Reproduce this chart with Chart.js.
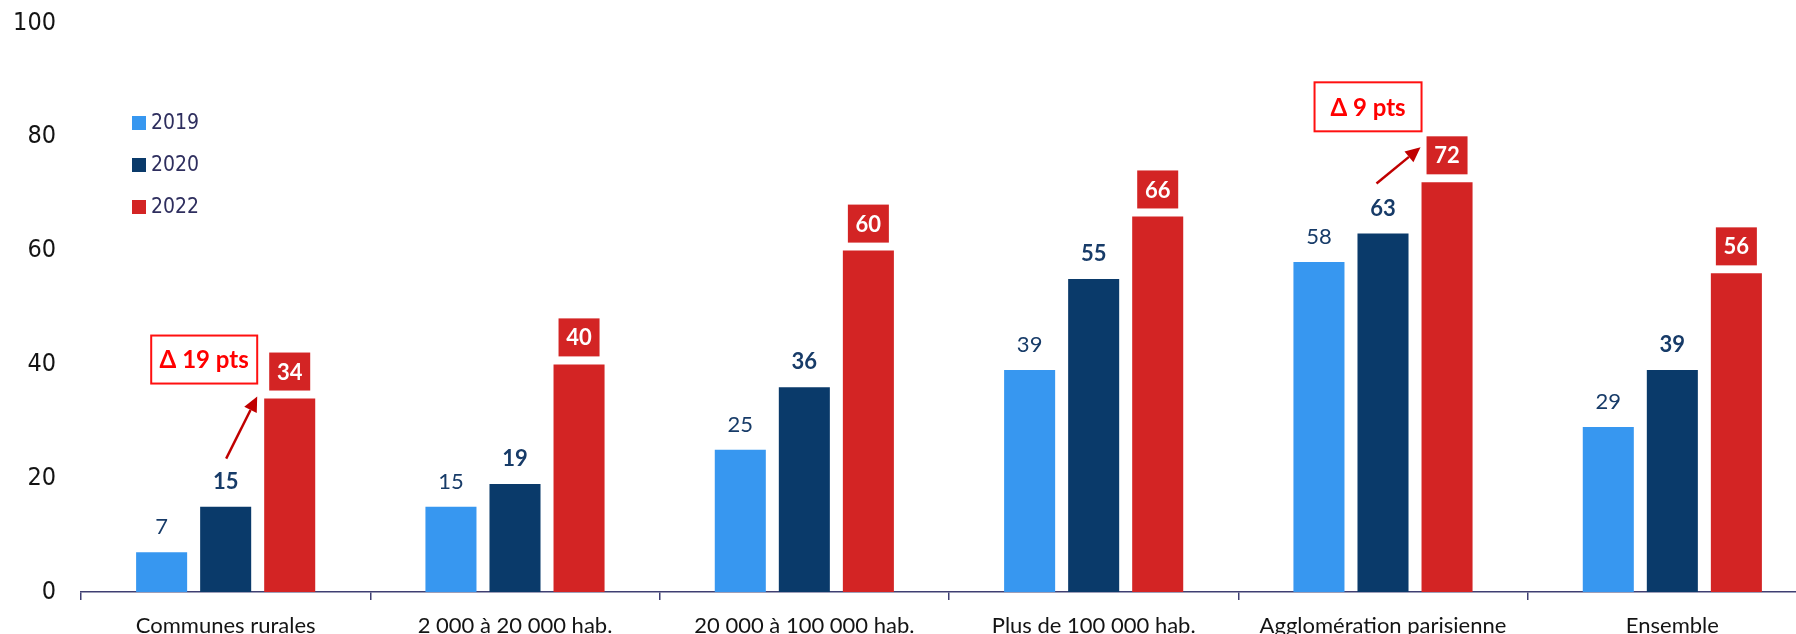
<!DOCTYPE html>
<html lang="fr">
<head>
<meta charset="utf-8">
<title>Évolution par taille d'agglomération</title>
<script src="https://cdn.jsdelivr.net/npm/chart.js@4.4.1/dist/chart.umd.min.js"></script>
<style>
  html, body { margin: 0; padding: 0; background: #ffffff; overflow: hidden; width: 1796px; height: 634px; }
  #wrap { position: absolute; left: 0; top: 0; width: 1817px; height: 650px; }
</style>
</head>
<body>
<div id="wrap"><canvas id="chart" width="1817" height="650"></canvas></div>
<script>
// ---- Data ----
const categories = [
  'Communes rurales',
  '2 000 à 20 000 hab.',
  '20 000 à 100 000 hab.',
  'Plus de 100 000 hab.',
  'Agglomération parisienne',
  'Ensemble'
];
const seriesLabels = ['2019', '2020', '2022'];
const values2019 = [7, 15, 25, 39, 58, 29];
const values2020 = [15, 19, 36, 55, 63, 39];
const values2022 = [34, 40, 60, 66, 72, 56];
const yTicks = [0, 20, 40, 60, 80, 100];
// categories that get a "Δ 2020 → 2022" callout
const calloutCategories = [0, 4];

// ---- Styles ----
const colors = ['#3797f0', '#0a3a6a', '#d32424'];
const axisColor = '#3f3f72';
const labelNavy = '#173b68';
const condensedFont = '"DejaVu Sans Condensed", "DejaVu Sans"';

// callout geometry, relative to the bars of its category
const calloutLayout = {
  0: { box: { dx: -85.5, dy: -39, w: 106, h: 48 }, from: { dx: 0.5, dy: -48 }, to: { dx: -32.5, dy: -2 } },
  4: { box: { dx: -79, dy: -75.5, w: 107, h: 49 }, from: { dx: -6.5, dy: -50 }, to: { dx: -26.5, dy: -35 } }
};

// value labels above bars; the last series sits in a filled box
const valueLabels = {
  id: 'valueLabels',
  afterDatasetsDraw(chart) {
    const ctx = chart.ctx;
    chart.data.datasets.forEach((ds, di) => {
      chart.getDatasetMeta(di).data.forEach((bar, i) => {
        const txt = String(ds.data[i]);
        ctx.save();
        ctx.textAlign = 'center';
        ctx.textBaseline = 'middle';
        if (di === 2) {
          const w = 41, h = 38, bottom = bar.y - 8;
          ctx.fillStyle = ds.backgroundColor;
          ctx.fillRect(bar.x - w / 2, bottom - h, w, h);
          ctx.fillStyle = '#ffffff';
          ctx.font = 'bold 22px Lato';
          ctx.fillText(txt, bar.x, bottom - h / 2 + 1);
        } else {
          ctx.fillStyle = labelNavy;
          ctx.font = (di === 1 ? 'bold ' : '') + '22px Lato';
          ctx.fillText(txt, bar.x, bar.y - 25);
        }
        ctx.restore();
      });
    });
  }
};

// legend drawn inside the plot area, top-left
const insideLegend = {
  id: 'insideLegend',
  afterDraw(chart) {
    const ctx = chart.ctx;
    const x0 = 132, y0 = 123, rowGap = 42, sq = 14;
    chart.data.datasets.forEach((ds, di) => {
      const cy = y0 + di * rowGap;
      ctx.save();
      ctx.fillStyle = ds.backgroundColor;
      ctx.fillRect(x0, cy - sq / 2, sq, sq);
      ctx.fillStyle = '#2e2e5e';
      ctx.font = '21px ' + condensedFont;
      ctx.textAlign = 'left';
      ctx.textBaseline = 'middle';
      ctx.fillText(ds.label, x0 + 19, cy + 1);
      ctx.restore();
    });
  }
};

// Δ callouts with arrow from the 2020 bar to the 2022 bar
const deltaCallouts = {
  id: 'deltaCallouts',
  afterDraw(chart) {
    const ctx = chart.ctx;
    const m20 = chart.getDatasetMeta(1).data;
    const m22 = chart.getDatasetMeta(2).data;
    calloutCategories.forEach(ci => {
      const lay = calloutLayout[ci];
      const b20 = m20[ci], b22 = m22[ci];
      const delta = values2022[ci] - values2020[ci];
      const text = 'Δ ' + delta + ' pts';

      // box
      const cx = b22.x + lay.box.dx, cy = b22.y + lay.box.dy;
      ctx.save();
      ctx.fillStyle = '#ffffff';
      ctx.fillRect(cx - lay.box.w / 2, cy - lay.box.h / 2, lay.box.w, lay.box.h);
      ctx.strokeStyle = '#ff1010';
      ctx.lineWidth = 2;
      ctx.strokeRect(cx - lay.box.w / 2, cy - lay.box.h / 2, lay.box.w, lay.box.h);
      ctx.fillStyle = '#ff0000';
      ctx.font = 'bold 24px Lato';
      ctx.textAlign = 'center';
      ctx.textBaseline = 'middle';
      ctx.fillText(text, cx, cy + 1);

      // arrow
      const sx = b20.x + lay.from.dx, sy = b20.y + lay.from.dy;
      const ex = b22.x + lay.to.dx, ey = b22.y + lay.to.dy;
      const ang = Math.atan2(ey - sy, ex - sx);
      const headLen = 15, headHalf = 7;
      const bx = ex - headLen * Math.cos(ang), by = ey - headLen * Math.sin(ang);
      ctx.strokeStyle = '#c00000';
      ctx.fillStyle = '#c00000';
      ctx.lineWidth = 2.5;
      ctx.beginPath();
      ctx.moveTo(sx, sy);
      ctx.lineTo(bx, by);
      ctx.stroke();
      ctx.beginPath();
      ctx.moveTo(ex, ey);
      ctx.lineTo(bx + headHalf * Math.sin(ang), by - headHalf * Math.cos(ang));
      ctx.lineTo(bx - headHalf * Math.sin(ang), by + headHalf * Math.cos(ang));
      ctx.closePath();
      ctx.fill();
      ctx.restore();
    });
  }
};

const seriesValues = [values2019, values2020, values2022];

new Chart(document.getElementById('chart'), {
  type: 'bar',
  data: {
    labels: categories,
    datasets: seriesLabels.map((label, i) => ({
      label,
      data: seriesValues[i],
      backgroundColor: colors[i],
      borderWidth: 0,
      categoryPercentage: 0.664,
      barPercentage: 0.797
    }))
  },
  options: {
    responsive: false,
    animation: false,
    layout: { padding: { top: 23, right: 0, bottom: 0, left: 0 } },
    plugins: {
      legend: { display: false },
      tooltip: { enabled: false }
    },
    scales: {
      x: {
        offset: true,
        border: { display: true, color: axisColor, width: 1.5 },
        grid: {
          display: true, offset: true, drawOnChartArea: false,
          drawTicks: true, tickLength: 8, color: axisColor, lineWidth: 1.5
        },
        ticks: {
          color: '#141414',
          font: { family: 'Lato', size: 22 },
          padding: 13,
          maxRotation: 0,
          autoSkip: false
        },
        afterFit(scale) {
          scale.height = 650 - 592;
          scale.paddingLeft = 0;
          scale.paddingRight = 0;
        }
      },
      y: {
        min: 0,
        max: 100,
        border: { display: false },
        grid: { display: false, drawTicks: false },
        afterBuildTicks(scale) { scale.ticks = yTicks.map(v => ({ value: v })); },
        ticks: {
          color: '#141414',
          font: { family: condensedFont, size: 25 },
          padding: 25
        },
        afterFit(scale) {
          scale.width = 81;
          scale.paddingTop = 0;
          scale.paddingBottom = 0;
        }
      }
    }
  },
  plugins: [valueLabels, insideLegend, deltaCallouts]
});
</script>
</body>
</html>
